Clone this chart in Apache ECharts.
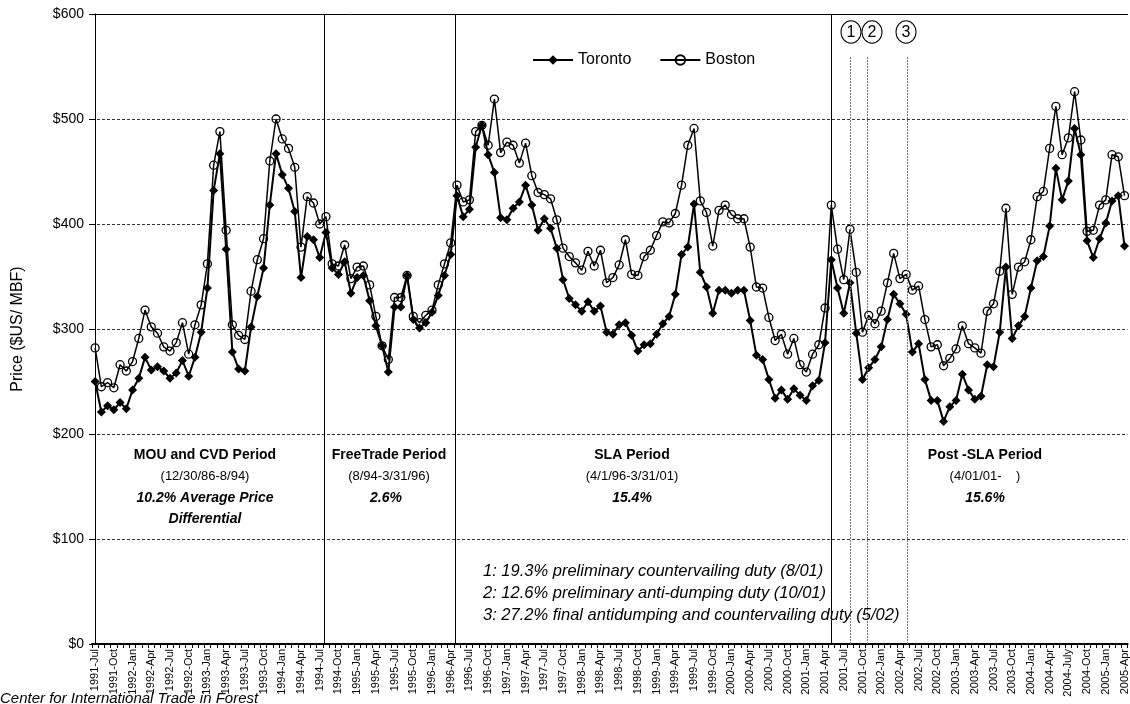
<!DOCTYPE html>
<html>
<head>
<meta charset="utf-8">
<script src="https://cdn.jsdelivr.net/npm/echarts@6/dist/echarts.min.js"></script>
<style>html,body{margin:0;padding:0;background:#fff}#c{width:1130px;height:704px}</style>
</head>
<body>
<div id="c"></div>
<script>
const categories = [
 '1991-Jul','1991-Aug','1991-Sep','1991-Oct','1991-Nov','1991-Dec',
 '1992-Jan','1992-Feb','1992-Mar','1992-Apr','1992-May','1992-Jun','1992-Jul','1992-Aug','1992-Sep','1992-Oct','1992-Nov','1992-Dec',
 '1993-Jan','1993-Feb','1993-Mar','1993-Apr','1993-May','1993-Jun','1993-Jul','1993-Aug','1993-Sep','1993-Oct','1993-Nov','1993-Dec',
 '1994-Jan','1994-Feb','1994-Mar','1994-Apr','1994-May','1994-Jun','1994-Jul','1994-Aug','1994-Sep','1994-Oct','1994-Nov','1994-Dec',
 '1995-Jan','1995-Feb','1995-Mar','1995-Apr','1995-May','1995-Jun','1995-Jul','1995-Aug','1995-Sep','1995-Oct','1995-Nov','1995-Dec',
 '1996-Jan','1996-Feb','1996-Mar','1996-Apr','1996-May','1996-Jun','1996-Jul','1996-Aug','1996-Sep','1996-Oct','1996-Nov','1996-Dec',
 '1997-Jan','1997-Feb','1997-Mar','1997-Apr','1997-May','1997-Jun','1997-Jul','1997-Aug','1997-Sep','1997-Oct','1997-Nov','1997-Dec',
 '1998-Jan','1998-Feb','1998-Mar','1998-Apr','1998-May','1998-Jun','1998-Jul','1998-Aug','1998-Sep','1998-Oct','1998-Nov','1998-Dec',
 '1999-Jan','1999-Feb','1999-Mar','1999-Apr','1999-May','1999-Jun','1999-Jul','1999-Aug','1999-Sep','1999-Oct','1999-Nov','1999-Dec',
 '2000-Jan','2000-Feb','2000-Mar','2000-Apr','2000-May','2000-Jun','2000-Jul','2000-Aug','2000-Sep','2000-Oct','2000-Nov','2000-Dec',
 '2001-Jan','2001-Feb','2001-Mar','2001-Apr','2001-May','2001-Jun','2001-Jul','2001-Aug','2001-Sep','2001-Oct','2001-Nov','2001-Dec',
 '2002-Jan','2002-Feb','2002-Mar','2002-Apr','2002-May','2002-Jun','2002-Jul','2002-Aug','2002-Sep','2002-Oct','2002-Nov','2002-Dec',
 '2003-Jan','2003-Feb','2003-Mar','2003-Apr','2003-May','2003-Jun','2003-Jul','2003-Aug','2003-Sep','2003-Oct','2003-Nov','2003-Dec',
 '2004-Jan','2004-Feb','2004-Mar','2004-Apr','2004-May','2004-Jun','2004-July','2004-Aug','2004-Sep','2004-Oct','2004-Nov','2004-Dec',
 '2005-Jan','2005-Feb','2005-Mar','2005-Apr'
];

const toronto = [
 250,221,227,223,230,224,
 242,253,273,261,264,260,253,258,270,255,273,297,
 339,432,467,376,278,262,260,302,331,358,418,467,
 447,434,412,349,388,385,368,392,358,352,364,334,
 349,351,327,303,284,259,321,321,351,309,301,306,
 316,332,351,371,427,407,414,473,494,466,449,406,
 404,415,421,437,418,394,405,396,377,347,329,323,
 317,326,317,322,297,295,304,306,294,279,285,286,
 295,305,312,333,371,378,419,354,340,315,337,337,
 334,337,337,308,275,271,252,234,242,233,243,237,
 232,246,251,287,366,339,315,344,296,252,263,271,
 283,309,333,324,314,278,286,252,232,232,212,226,
 232,257,242,233,236,266,264,297,359,291,303,312,
 339,365,369,398,453,423,441,491,466,384,368,386,
 401,422,427,379
];

const boston = [
 282,245,249,244,266,260,
 269,291,318,302,296,283,279,287,306,276,304,323,
 362,456,488,394,304,294,290,336,366,386,460,500,
 481,472,454,378,426,420,400,407,362,360,380,348,
 359,360,342,312,284,271,330,330,351,312,306,313,
 318,342,362,382,437,421,423,488,494,475,519,468,
 478,475,458,477,446,430,428,424,404,377,369,363,
 356,374,360,375,344,349,361,385,352,351,369,375,
 389,402,401,410,437,475,491,422,411,379,413,418,
 409,405,405,378,340,339,311,289,295,276,291,266,
 259,276,285,320,418,376,347,395,354,297,313,305,
 317,344,372,348,352,337,341,309,283,285,265,272,
 281,303,286,282,277,317,324,355,415,333,359,364,
 385,426,431,472,512,466,482,526,480,393,394,418,
 423,466,464,427
];

const yTickValues = [0, 100, 200, 300, 400, 500, 600];

// period boundaries (category position) and duty event lines
const periodLines = [36.8, 57.65, 118];
const dutyLines = [121, 123.7, 130.1];
const dutyLineTop = 559;

const FONT = 'Liberation Sans, Arial, sans-serif';

const chart = echarts.init(document.getElementById('c'), null, {renderer: 'canvas'});

function txt(x, y, text, font, align) {
  return {type: 'text', x: x, y: y, z: 50,
    style: {text: text, font: font, fill: '#000', align: align || 'center', verticalAlign: 'middle',
            textAlign: align || 'center', textVerticalAlign: 'middle'}};
}
const graphics = [
  txt(205, 455, 'MOU and CVD Period', 'bold 14px ' + FONT),
  txt(205, 476, '(12/30/86-8/94)', '13px ' + FONT),
  txt(205, 498, '10.2% Average Price', 'italic bold 14px ' + FONT),
  txt(205, 519, 'Differential', 'italic bold 14px ' + FONT),
  txt(389, 455, 'FreeTrade Period', 'bold 14px ' + FONT),
  txt(389, 476, '(8/94-3/31/96)', '13px ' + FONT),
  txt(386, 498, '2.6%', 'italic bold 14px ' + FONT),
  txt(632, 455, 'SLA Period', 'bold 14px ' + FONT),
  txt(632, 476, '(4/1/96-3/31/01)', '13px ' + FONT),
  txt(632, 498, '15.4%', 'italic bold 14px ' + FONT),
  txt(985, 455, 'Post -SLA Period', 'bold 14px ' + FONT),
  txt(985, 476, '(4/01/01-    )', '13px ' + FONT),
  txt(985, 498, '15.6%', 'italic bold 14px ' + FONT),
  txt(483, 571, '1: 19.3% preliminary countervailing duty (8/01)', 'italic 16.5px ' + FONT, 'left'),
  txt(483, 593, '2: 12.6% preliminary anti-dumping duty (10/01)', 'italic 16.5px ' + FONT, 'left'),
  txt(483, 615, '3: 27.2% final antidumping and countervailing duty (5/02)', 'italic 16.5px ' + FONT, 'left'),
  txt(0, 699, 'Center for International Trade in Forest', 'italic 15px ' + FONT, 'left')
];
[[851, '1'], [872, '2'], [906, '3']].forEach(function (c) {
  graphics.push({type: 'circle', z: 50, shape: {cx: c[0], cy: 32, r: 10}, scaleY: 1.12, originX: c[0], originY: 32,
                 style: {fill: '#fff', stroke: '#000', lineWidth: 1}});
  graphics.push(txt(c[0], 33, c[1], '16px ' + FONT));
});

const markData = periodLines.map(function (v) {
  return [{coord: [v, 0], lineStyle: {color: '#000', width: 1, type: 'solid'}},
          {coord: [v, 600]}];
}).concat(dutyLines.map(function (v) {
  return [{coord: [v, 0], lineStyle: {color: '#777', width: 1, type: [2, 1]}},
          {coord: [v, dutyLineTop]}];
}));

chart.setOption({
  animation: false,
  backgroundColor: '#fff',
  textStyle: {fontFamily: FONT},
  grid: {left: 92, right: 2, top: 14, bottom: 60, containLabel: false},
  legend: {
    data: ['Toronto', 'Boston'],
    left: 527, top: 47,
    itemWidth: 40, itemHeight: 12, itemGap: 28,
    textStyle: {fontSize: 16, color: '#000', fontFamily: FONT}
  },
  xAxis: [{
    type: 'category',
    data: categories,
    boundaryGap: true,
    axisLine: {lineStyle: {color: '#000', width: 2}},
    axisTick: {show: true, interval: 0, length: 4, lineStyle: {color: '#000'}},
    axisLabel: {interval: 2, rotate: 90, fontSize: 11, color: '#000', margin: 5, fontFamily: FONT},
    splitLine: {show: false}
  }, {
    type: 'value',
    min: -0.5, max: 165.5,
    position: 'top',
    axisLine: {show: true, lineStyle: {color: '#000', width: 1}},
    axisTick: {show: false},
    axisLabel: {show: false},
    splitLine: {show: false}
  }],
  yAxis: {
    type: 'value',
    min: yTickValues[0], max: yTickValues[yTickValues.length - 1], interval: 100,
    name: 'Price ($US/ MBF)',
    nameLocation: 'middle',
    nameGap: 66,
    nameTextStyle: {fontSize: 16, color: '#000', fontFamily: FONT},
    axisLine: {show: true, lineStyle: {color: '#000', width: 1}},
    axisTick: {show: true, length: 6, lineStyle: {color: '#000'}},
    axisLabel: {formatter: function (v) { return '$' + v; }, fontSize: 14, color: '#000', margin: 8, fontFamily: FONT},
    splitLine: {show: true, lineStyle: {color: '#333', width: 1, type: [3, 2]}}
  },
  series: [{
    name: 'lines',
    type: 'line',
    xAxisIndex: 1,
    data: [],
    silent: true,
    markLine: {symbol: 'none', silent: true, label: {show: false}, data: markData}
  }, {
    name: 'Toronto',
    type: 'line',
    data: toronto,
    symbol: 'diamond',
    symbolSize: 9,
    showAllSymbol: true,
    z: 3,
    lineStyle: {color: '#000', width: 2},
    itemStyle: {color: '#000'}
  }, {
    name: 'Boston',
    type: 'line',
    data: boston,
    symbol: 'circle',
    symbolSize: 8,
    showAllSymbol: true,
    z: 4,
    lineStyle: {color: '#000', width: 1.5},
    itemStyle: {color: 'rgba(255,255,255,0)', borderColor: '#000', borderWidth: 1.3}
  }],
  graphic: graphics
});
</script>
</body>
</html>
